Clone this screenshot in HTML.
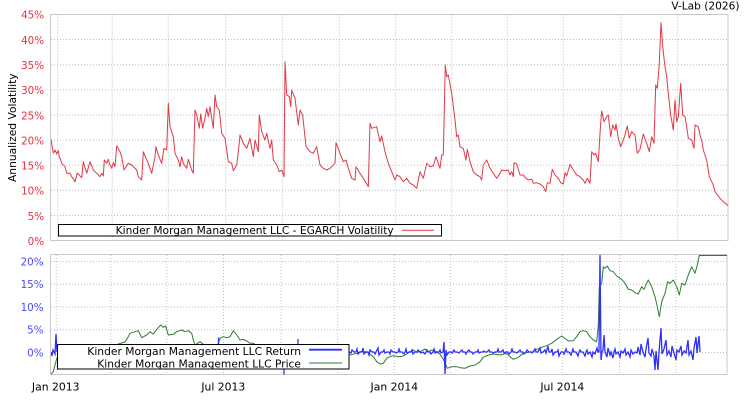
<!DOCTYPE html>
<html><head><meta charset="utf-8"><style>
html,body{margin:0;padding:0;background:#fff;}
svg{display:block;font-family:"DejaVu Sans","Liberation Sans",sans-serif;}
</style></head><body>
<svg width="750" height="400" viewBox="0 0 750 400" xmlns="http://www.w3.org/2000/svg">
<defs>
<clipPath id="c1"><rect x="51" y="14.5" width="677" height="226"/></clipPath>
<clipPath id="c2"><rect x="51" y="255" width="676" height="119.5"/></clipPath>
</defs>
<rect width="750" height="400" fill="#fff"/>
<text x="739.5" y="9.5" font-size="10.6" text-anchor="end" fill="#000">V-Lab (2026)</text>

<!-- top panel grid -->
<g stroke="#bdbdbd" stroke-width="1" stroke-dasharray="1 2" fill="none">
<path d="M51,215.5H728M51,190.4H728M51,165.3H728M51,140.1H728M51,115H728M51,89.8H728M51,64.7H728M51,39.5H728"/>
<path d="M57.7,14.5V240.5M112.3,14.5V240.5M168.3,14.5V240.5M225.7,14.5V240.5M282.7,14.5V240.5M339.3,14.5V240.5M395.7,14.5V240.5M451.7,14.5V240.5M507.3,14.5V240.5M563.3,14.5V240.5M621,14.5V240.5M677.3,14.5V240.5"/>
</g>
<rect x="50.5" y="14.5" width="677.5" height="226" fill="none" stroke="#c8c8c8" stroke-width="1"/>

<g clip-path="url(#c1)">
<polyline fill="none" stroke="#e03a44" stroke-width="1" stroke-linejoin="round" points="51,139.3 53.3,153 55,150 56.7,154 58.3,150.7 59.3,156.7 60.7,160 61.7,163.3 65,166.7 66.7,173.3 70,173.3 71.7,176.7 75,181.7 77.3,173 81.7,177.7 83.3,161.7 86.7,173.3 90,161.7 93.3,170 96.7,173.3 100,176.7 101.7,173.3 103.3,176 104.3,160 106.7,163.3 108.3,159.3 110,165 111.7,168.3 113.3,162.7 115,166.7 116.7,146 120,151.7 121.7,156.7 124,170 128.3,163.3 131.7,165 136.7,170 138.3,176.7 141.7,180 143.3,151.7 146.7,160 148.3,163.3 151.7,173.3 155,156.7 156,146.7 158.3,155 161.7,163.3 164,148.3 166.7,150 168.3,103.3 170,126.7 173.3,136.7 175,153.3 178.3,160 180,166.7 181.7,156.7 183.3,163.3 186.7,168.3 188.3,159.3 191.7,170 193.3,173.3 195,110 196.7,115 199.3,128.3 200.7,114 202.7,128.3 205,118.3 206.7,108.3 208.3,116.7 210,106.7 211.7,118.3 213.3,128.3 215,95 216.7,106.7 219.3,110 221.7,133.3 225,138.3 226.7,150 228.3,161.7 231.7,163.3 233.3,170.7 236.7,165 238.3,151.7 240,135 243.3,143.3 246.7,148.3 250,138.3 253.3,156.7 255,140 258.3,151.7 259.3,115 261.7,131.7 265,140 266.7,133.3 270,148.3 271.7,140 273.3,160 276.7,165 279.3,171.7 281.7,170 284,176.7 285,61.7 286.7,95 289.3,96.7 290.7,106.7 291.7,90 295,98.3 298.3,125 300,110 302.7,115 306,146.7 310,151.7 313.3,153.3 316.7,146.7 320,165 323.3,168.3 326.7,170 330,168.3 335,163.3 336,142.7 340,153.3 343.3,161.7 346,160 348.3,168.3 351.7,178.3 355,180 356,166.7 360,173.3 363.3,178.3 368.3,186.7 370,123.3 371.7,128.3 376.7,126.7 380,141.7 381.7,136 385,151.7 388.3,163.3 391.7,171.7 395,180 396.7,175 400,176.7 403.3,181.7 406.7,178.3 410,183.3 413.3,185 416.7,188.3 420,171.7 423.3,178.3 426.7,163.3 430,166.7 433.3,166 436,156.7 440,168.3 441.7,155 443.3,155 445.3,65 446.7,76.7 448.3,75 451.7,93.3 455,120 456.7,136.7 458.3,135 460,146.7 463.3,148.3 466,160 467.3,149.3 470,161.7 473.3,171.7 476.7,175 480,176.7 481.7,180 483.3,165 486.7,160 490,168.3 493.3,173.3 496.7,178.3 500,173.3 501.7,170 505,170.7 508.3,170 510,175 511.7,171.7 513.3,176.7 514,162.7 516.7,164 520,175 523.3,175 526,178.3 528.3,180 531.7,179.3 533.3,183.3 536.7,182.7 540,184 543.3,186.7 545.7,191.7 547.3,182.7 550,183.3 552.3,169.3 555,175 558.3,178.3 560.7,182.7 563.3,184 565,172.7 566.7,176 570,164.3 573.3,170 576.7,175 580,176.7 583.3,180 585,183.3 587.3,178.3 590,183.3 591.7,151.7 594,155 595.7,153.3 598.3,161.7 600,133.3 601.7,111 604,121.7 606.7,116.7 608.3,115 610.7,136.7 612.7,125 615,130 616,124 618.3,138.3 620.7,146.7 623.3,140 625,135 627.3,126 629.3,138.3 631.7,131.7 635,135 637.3,153.3 640,149.3 643.3,134 646.7,143.3 649.3,151.7 651.7,136.7 654,143.3 655.7,85 657.3,88.3 659.3,63.3 661,22.7 662.7,46.7 665,66.7 666.7,76.7 668.3,93.3 670.7,115 673.3,130 675,100 676.7,121.7 678.3,116.7 680.7,83.3 682.7,115 685,116.7 686.7,126.7 688.3,138.3 691.7,140 694,148.3 695,125 698.3,126.7 700,135 701.7,140 703.3,150 706.7,160 709.3,176.7 713.3,185 715,191.7 720,198.3 723.3,201.7 728.3,205.7"/>
</g>

<!-- top legend -->
<rect x="58.5" y="224.5" width="383" height="11.5" fill="#fff" stroke="#000" stroke-width="1"/>
<text x="115.7" y="234" font-size="10.6" fill="#000" textLength="278" lengthAdjust="spacingAndGlyphs">Kinder Morgan Management LLC - EGARCH Volatility</text>
<line x1="401.7" y1="230.3" x2="434" y2="230.3" stroke="#e03a44" stroke-width="1"/>

<!-- top y labels -->
<g font-size="10.3" fill="#e8323c" text-anchor="end">
<text x="44" y="245">0%</text>
<text x="44" y="219.8">5%</text>
<text x="44" y="194.7">10%</text>
<text x="44" y="169.6">15%</text>
<text x="44" y="144.4">20%</text>
<text x="44" y="119.3">25%</text>
<text x="44" y="94.1">30%</text>
<text x="44" y="69">35%</text>
<text x="44" y="43.8">40%</text>
<text x="44" y="18.7">45%</text>
</g>
<text transform="translate(16,127.7) rotate(-90)" font-size="10.7" text-anchor="middle" fill="#000">Annualized Volatility</text>

<!-- bottom panel grid -->
<g stroke="#bdbdbd" stroke-width="1" stroke-dasharray="1 2" fill="none">
<path d="M51,352.5H727M51,329.8H727M51,307H727M51,284.3H727M51,261.5H727"/>
<path d="M56.2,255V374.5M110.8,255V374.5M166.8,255V374.5M223.5,255V374.5M281,255V374.5M337.7,255V374.5M394.3,255V374.5M450.3,255V374.5M506,255V374.5M562.3,255V374.5M619.5,255V374.5M676,255V374.5"/>
</g>
<rect x="50.5" y="254.5" width="676.5" height="120" fill="none" stroke="#c8c8c8" stroke-width="1"/>

<g clip-path="url(#c2)">
<polyline fill="none" stroke="#2d7d2d" stroke-width="1" stroke-linejoin="round" points="51,374.3 53.3,371.7 55,365 57,358 65,356 75,352 85,350 95,350 105,348 115,345 125,342 128.3,336.7 130,333.3 135,331.7 138.3,330.7 141.7,337.7 146.7,335 150,331.7 153.3,334 156.7,329.3 160.7,325 163.3,327.3 165.7,326 168.3,335 173.3,334.3 176.7,331.7 181.7,330 185,331.7 188.3,330.7 191.7,333.3 193.3,340 195,345 200,341.7 203.3,344.3 210,347 218.3,344 220,338.3 223.3,336.7 226.7,337.7 230,336.7 233.3,330.7 236.7,335 240,340 243.3,339.3 246.7,341 250,343.3 253.3,343.3 256,345 270,350 290,352 310,354 330,355 345,355 350,355 356.7,353.3 360,351.7 366.7,351.7 373.3,356.7 376.7,361.7 380,364 383.3,363.3 386.7,358.3 390,356.7 393.3,355.7 398.3,356.7 403.3,356 406.7,354 410,351.7 413.3,350 416.7,352.3 420,351.7 425,349 428.3,351.7 431.7,350 436.7,351.7 440,354.3 442.7,358.3 445,362.7 447.3,368.3 451.7,366.7 456.7,366.7 460,367.7 465,368.3 470,366 475,365 480,361.7 483.3,357.3 488.3,355 493.3,354 500,355 506.7,353.3 510,356.7 513.3,359.3 518.3,357.3 523.3,353.3 528.3,352.3 533.3,351.7 536.7,349.3 540,348.3 543.3,346.7 546.7,345.7 551.7,343.3 556.7,339.3 561.7,336 565,338.3 568.3,341 573.3,340.7 576.7,336.7 580,331.7 583.3,330.7 586.7,331.7 590,336.7 593.3,340 596.7,341.7 598.3,325 599.3,286.7 601.7,283.3 603.3,266.7 605,268.3 607.3,266 610,270.7 613.3,271.7 616.7,276 621.7,279.3 625,283.3 628.3,289.3 631.7,290 635,292.7 638.3,294 641.7,286.7 644,289.3 646.7,283.3 648.3,280 651.7,286.7 655,296.7 657.3,306.7 659.3,316.7 661.7,301.7 665,293.3 667.7,281.7 670,283.3 673.3,280 676.7,286.7 679.3,295 681.7,283.3 685,285 688.3,275 691.7,266.7 695,273.3 697.3,265 699.3,255.5 727,255.5"/>
<g fill="none" stroke="#2f2fff" stroke-width="1.3" stroke-linejoin="miter">
<polyline points="51,352 52,356 53,350 55,354 56,334 57,352"/>
<path d="M218.5,350V337.5M298,346V339M284,369V374.5"/>
<polyline points="349,352 351,353 352,350 354,352 356,352 357,349 358,354 360,352 362,352 363,348 364,354 366,352 368,352 369,355 370,350 372,352 374,352 375,354 376,352 378,348 379,355 381,352 383,352 384,350 385,353 387,352 389,352 390,354 391,350 393,352 395,352 396,353 398,352 399,349 400,352 402,352 404,354 405,352 406,349 407,353 409,352 411,352 412,350 413,354 415,352 417,352 418,350 420,352 421,353 423,352 425,354 426,352 427,350 428,352 430,352 431,354 433,352 434,349 435,353 437,352 439,352 440,350 441,353 443,352 444,342 445,374 446,350 447,355 449,352 451,352 452,353 454,350 455,352 457,352 459,353 460,352 462,350 463,352 465,352 466,354 467,352 469,350 470,352 472,352 473,354 475,352 477,352 478,350 479,353 481,352 483,352 484,351 485,352 487,352 489,350 490,352 492,352 493,353 495,352 497,352 498,349 499,352 501,352 503,350 504,353 506,352 508,352 509,354 511,352 512,349 513,352 515,352 517,353 518,352 520,350 521,352 523,352 524,354 526,352 527,350 529,352 531,352 532,353 533,352 535,349 536,352 538,352 540,348 541,353 543,352 545,350 546,353 548,346 549,352 551,352 552,349 553,355 555,352 557,352 558,350 559,356 561,352 563,352 564,354 566,349 567,352 569,352 571,355 572,352 573,349 574,352 576,352 578,356 579,352 580,350 581,352 583,352 585,356 586,352 587,350 588,354 590,352 592,357 593,352 595,354 597,348 598,352 599,352 600,254 601,360 602,352 603,350 604,335 605,352 607,357 608,348 610,355 611,352 613,358 614,352 615,349 616,354 618,352 620,357 621,351 623,353 625,349 626,355 628,352 630,357 631,350 633,354 635,352 637,353 638,347 640,355 641,344 643,352 645,357 646,349 648,338 649,353 651,356 652,349 654,356 655,370 656,351 658,370 659,352 661,328 662,354 664,349 666,340 667,355 669,351 671,357 672,346 674,353 676,360 677,350 679,352 681,346 682,355 684,351 686,353 688,340 689,355 691,351 693,360 694,348 696,337 697,353 699,336 700,352"/>
</g>
</g>

<!-- bottom legend -->
<rect x="57.5" y="344.5" width="291.5" height="24.5" fill="#fff" stroke="#000" stroke-width="1"/>
<text x="87.3" y="355" font-size="10.8" fill="#000" textLength="213.7" lengthAdjust="spacingAndGlyphs">Kinder Morgan Management LLC Return</text>
<text x="97.3" y="367.3" font-size="10.8" fill="#000" textLength="203.7" lengthAdjust="spacingAndGlyphs">Kinder Morgan Management LLC Price</text>
<line x1="309" y1="349.7" x2="342" y2="349.7" stroke="#2f2fff" stroke-width="1.8"/>
<line x1="309" y1="363" x2="342" y2="363" stroke="#2d7d2d" stroke-width="1"/>

<!-- bottom y labels -->
<g font-size="10.3" fill="#4848ff" text-anchor="end">
<text x="43.5" y="356.3">0%</text>
<text x="43.5" y="333.6">5%</text>
<text x="43.5" y="310.8">10%</text>
<text x="43.5" y="288.1">15%</text>
<text x="43.5" y="265.3">20%</text>
</g>

<!-- x labels -->
<g font-size="10.8" fill="#000" text-anchor="middle">
<text x="55.7" y="390.5">Jan 2013</text>
<text x="223.3" y="390.5">Jul 2013</text>
<text x="394.3" y="390.5">Jan 2014</text>
<text x="562.3" y="390.5">Jul 2014</text>
</g>
</svg>
</body></html>
